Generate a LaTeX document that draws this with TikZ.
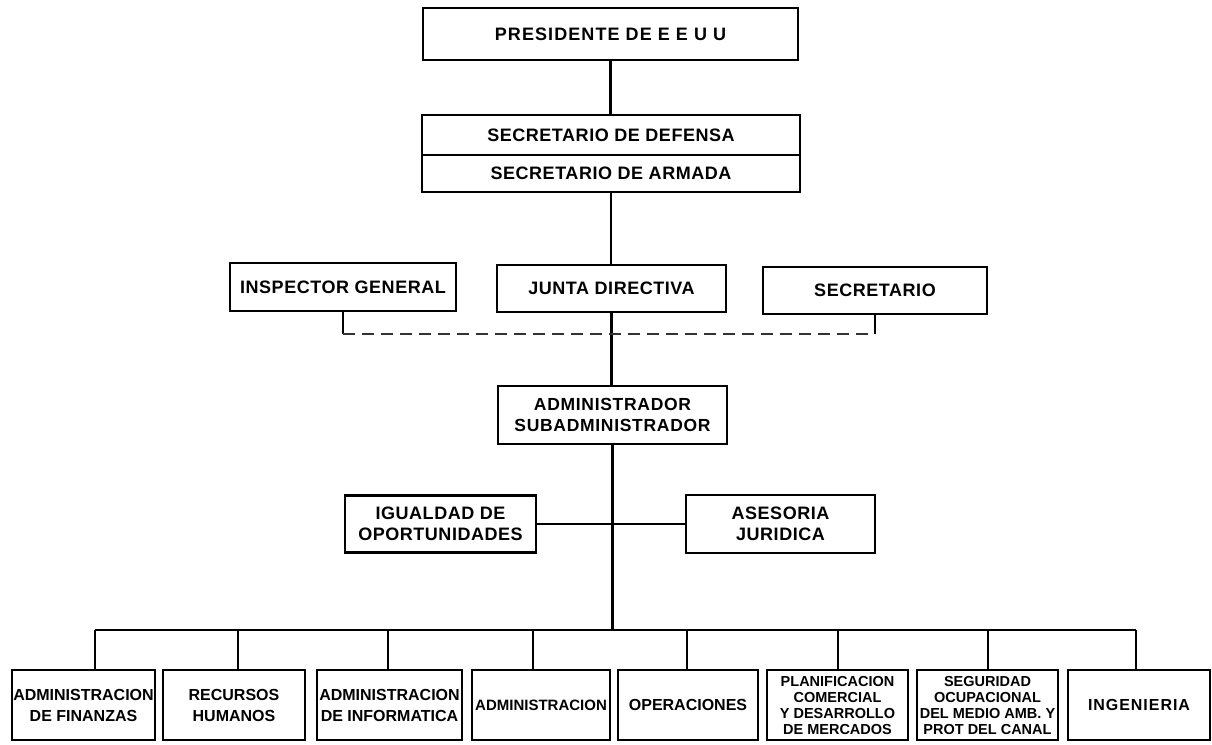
\documentclass[tikz,border=0pt]{standalone}
\usepackage{fontspec}
\setmainfont{Liberation Sans}
\begin{document}
\begin{tikzpicture}[x=1pt,y=-1pt,
  box/.style={draw, line width=2.4pt, inner sep=0pt, align=center,
    font=\bfseries\fontsize{18}{21}\selectfont\addfontfeature{LetterSpace=3}},
  sbox/.style={draw, line width=2.4pt, inner sep=0pt, align=center,
    font=\bfseries\fontsize{16}{21}\selectfont, minimum height=70},
  conn/.style={line width=2.2pt},
  dconn/.style={line width=2.8pt, dash pattern=on 12pt off 7pt, black!80}]
\useasboundingbox[fill=white] (0,0) rectangle (1212,744);

% top levels
\node[box, minimum width=375, minimum height=52,
  font=\bfseries\fontsize{18}{21}\selectfont\addfontfeature{LetterSpace=6}] (pres) at (610.5,34) {PRESIDENTE DE E E U U};
\node[box, minimum width=378, minimum height=40] (secd) at (611,135) {SECRETARIO DE DEFENSA};
\node[box, minimum width=378, minimum height=37] (seca) at (611,173.5) {SECRETARIO DE ARMADA};

\node[box, minimum width=226, minimum height=48] (ig) at (343,287) {INSPECTOR GENERAL};
\node[box, minimum width=229, minimum height=47] (junta) at (611.5,288.5) {JUNTA DIRECTIVA};
\node[box, minimum width=224, minimum height=47] (secr) at (875,290.5) {SECRETARIO};

\node[box, minimum width=229, minimum height=58,
  font=\bfseries\fontsize{17.5}{21}\selectfont\addfontfeature{LetterSpace=4}] (admin) at (612.5,415) {ADMINISTRADOR\\SUBADMINISTRADOR};

\node[box, minimum width=191, minimum height=57] (igual) at (440.5,524) {IGUALDAD DE\\OPORTUNIDADES};
\node[box, minimum width=189, minimum height=58] (ases) at (780.5,524) {ASESORIA\\JURIDICA};

% bottom level
\node[sbox, minimum width=143] (b1) at (83.5,705) {ADMINISTRACION\\DE FINANZAS};
\node[sbox, minimum width=142] (b2) at (234,705) {RECURSOS\\HUMANOS};
\node[sbox, minimum width=145] (b3) at (389.5,705) {ADMINISTRACION\\DE INFORMATICA};
\node[sbox, minimum width=138, font=\bfseries\fontsize{15}{21}\selectfont] (b4) at (541,705) {ADMINISTRACION};
\node[sbox, minimum width=140] (b5) at (688,705) {OPERACIONES};
\node[sbox, minimum width=141, font=\bfseries\fontsize{14.5}{16}\selectfont] (b6) at (837.5,705) {PLANIFICACION\\COMERCIAL\\Y DESARROLLO\\DE MERCADOS};
\node[sbox, minimum width=141, font=\bfseries\fontsize{14.5}{16}\selectfont] (b7) at (987.5,705) {SEGURIDAD\\OCUPACIONAL\\DEL MEDIO AMB. Y\\PROT DEL CANAL};
\node[sbox, minimum width=142, font=\bfseries\fontsize{16}{21}\selectfont\addfontfeature{LetterSpace=6}] (b8) at (1139,705) {INGENIERIA};

% main spine
\draw[conn] (pres.south) -- (pres.south |- secd.north);
\draw[conn] (seca.south) -- (seca.south |- junta.north);
\draw[conn] (junta.south) -- (junta.south |- admin.north);

% dashed staff link
\coordinate (dl) at (341,334);
\draw[conn] (ig.south) -- (ig.south |- dl);
\draw[conn] (secr.south) -- (secr.south |- dl);
\draw[dconn] (ig.south |- dl) -- (secr.south |- dl);

% advisors
\draw[conn] (igual.east) -- (ases.west);

% bus
\coordinate (d1) at (95,630);
\coordinate (d2) at (238,630);
\coordinate (d3) at (388,630);
\coordinate (d4) at (533,630);
\coordinate (d5) at (687,630);
\coordinate (d6) at (838,630);
\coordinate (d7) at (988,630);
\coordinate (d8) at (1136,630);
\draw[conn] (admin.south) -- (admin.south |- d1);
\draw[conn] (d1) -- (d8);
\foreach \i in {1,...,8} {
  \draw[conn] (d\i) -- (d\i |- b\i.north);
}
\end{tikzpicture}
\end{document}
